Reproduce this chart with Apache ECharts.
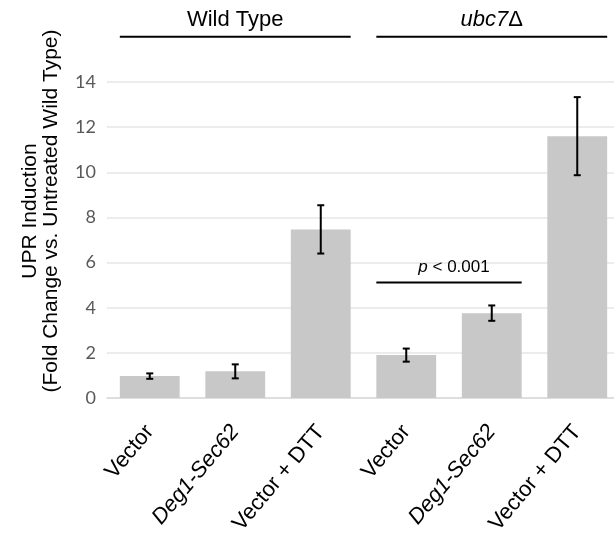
<!DOCTYPE html>
<html>
<head>
<meta charset="utf-8">
<script src="https://cdn.jsdelivr.net/npm/echarts@6/dist/echarts.min.js"></script>
<style>
html,body{margin:0;padding:0;background:#fff;}
#main{width:614px;height:533px;}
</style>
</head>
<body>
<div id="main"></div>
<script>
// ---- data ----
var categories = ['Vector', 'Deg1-Sec62', 'Vector + DTT', 'Vector', 'Deg1-Sec62', 'Vector + DTT'];
var italicCategories = ['Deg1-Sec62'];
var values = [0.97, 1.18, 7.47, 1.90, 3.76, 11.60];
var errors = [0.12, 0.31, 1.07, 0.29, 0.34, 1.73];
var groups = ['Wild Type', 'ubc7Δ'];
var groupRanges = [[0, 2], [3, 5]];
var pText = 'p < 0.001';
var pRange = [3, 4];
var pLevel = 5.12;
var groupLevel = 16;
var yTicks = [0, 2, 4, 6, 8, 10, 12, 14];
var yTitle = ['UPR Induction', '(Fold Change vs. Untreated Wild Type)'];

var errData = values.map(function (v, i) { return [i, v, errors[i]]; });

var chart = echarts.init(document.getElementById('main'), null, {renderer: 'canvas'});
var ARIAL = '"Liberation Sans", Arial, sans-serif';

chart.setOption({
  animation: false,
  grid: {left: 107, top: 82, width: 513, height: 316, containLabel: false, outerBoundsMode: 'none'},
  xAxis: {
    type: 'category',
    data: categories,
    axisTick: {show: false},
    axisLine: {show: true, lineStyle: {color: '#d9d9d9', width: 1.5}},
    axisLabel: {
      interval: 0,
      rotate: 50,
      margin: 30,
      fontSize: 22,
      color: '#000',
      fontFamily: ARIAL,
      formatter: function (v) {
        return italicCategories.indexOf(v) >= 0 ? '{it|' + v + '}' : v;
      },
      rich: {it: {fontStyle: 'italic', fontSize: 22, fontFamily: ARIAL, color: '#000'}}
    }
  },
  yAxis: {
    type: 'value',
    min: yTicks[0],
    max: yTicks[yTicks.length - 1],
    interval: yTicks[1] - yTicks[0],
    axisLine: {show: false},
    axisTick: {show: false},
    axisLabel: {fontSize: 18, color: '#595959', fontFamily: 'Lato, "Open Sans", sans-serif', margin: 11},
    splitLine: {lineStyle: {color: '#e6e6e6', width: 1.5}}
  },
  series: [
    {
      type: 'bar',
      data: values,
      barCategoryGap: '30%',
      itemStyle: {color: '#c8c8c8'},
      z: 2
    },
    {
      type: 'custom',
      data: errData,
      encode: {x: 0, y: 1},
      z: 3,
      renderItem: function (params, api) {
        var i = api.value(0), v = api.value(1), e = api.value(2);
        var hi = api.coord([i, v + e]);
        var lo = api.coord([i, v - e]);
        var cap = 3.5;
        var st = {stroke: '#000', lineWidth: 2};
        return {
          type: 'group',
          children: [
            {type: 'line', shape: {x1: hi[0], y1: hi[1], x2: lo[0], y2: lo[1]}, style: st},
            {type: 'line', shape: {x1: hi[0] - cap, y1: hi[1], x2: hi[0] + cap, y2: hi[1]}, style: st},
            {type: 'line', shape: {x1: lo[0] - cap, y1: lo[1], x2: lo[0] + cap, y2: lo[1]}, style: st}
          ]
        };
      }
    }
  ]
});

// ---- annotations positioned through the axes ----
function px(i) { return chart.convertToPixel({xAxisIndex: 0}, i); }
function py(v) { return chart.convertToPixel({yAxisIndex: 0}, v); }
var band = px(1) - px(0);
var half = band * 0.35;
var gEls = [];
var gy = py(groupLevel);
groupRanges.forEach(function (r, k) {
  var x1 = px(r[0]) - half, x2 = px(r[1]) + half;
  gEls.push({type: 'line', shape: {x1: x1, y1: gy, x2: x2, y2: gy}, style: {stroke: '#000', lineWidth: 2}});
  var txt = k === 1 ? '{i|ubc7}{n|Δ}' : groups[k];
  gEls.push({
    type: 'text', x: (x1 + x2) / 2, y: gy - 17,
    style: {
      text: txt, align: 'center', verticalAlign: 'middle',
      font: '22px ' + ARIAL, fill: '#000',
      rich: {i: {fontStyle: 'italic', fontSize: 22, fontFamily: ARIAL}, n: {fontSize: 22, fontFamily: ARIAL}}
    }
  });
});
var p1 = px(pRange[0]) - half, p2 = px(pRange[1]) + half, pyv = py(pLevel);
gEls.push({type: 'line', shape: {x1: p1, y1: pyv, x2: p2, y2: pyv}, style: {stroke: '#000', lineWidth: 2}});
gEls.push({
  type: 'text', x: (p1 + p2) / 2 + 5, y: pyv - 15,
  style: {
    text: '{i|p}' + pText.slice(1), align: 'center', verticalAlign: 'middle',
    font: '17px ' + ARIAL, fill: '#000',
    rich: {i: {fontStyle: 'italic', fontSize: 17, fontFamily: ARIAL}}
  }
});
gEls.push({
  type: 'text', x: 41, y: 211, rotation: Math.PI / 2,
  style: {
    text: yTitle.join('\n'), align: 'center', verticalAlign: 'middle',
    font: '21px ' + ARIAL, fill: '#000', lineHeight: 21
  }
});
chart.setOption({graphic: {elements: gEls}});
</script>
</body>
</html>
